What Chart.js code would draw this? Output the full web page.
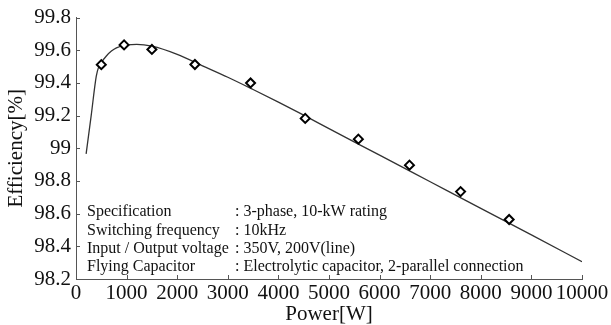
<!DOCTYPE html>
<html>
<head>
<meta charset="utf-8">
<title>Efficiency vs Power</title>
<script src="https://cdn.jsdelivr.net/npm/chart.js@4/dist/chart.umd.min.js"></script>
<style>
  html, body { margin: 0; padding: 0; background: #fff; }
  #wrap { width: 611px; height: 325px; }
</style>
</head>
<body>
<div id="wrap"><canvas id="effChart" width="611" height="325"></canvas></div>
<script>
// measured points (diamonds)
const measPower = [500, 950, 1500, 2350, 3450, 4530, 5580, 6590, 7600, 8560];
const measEff = [99.512, 99.633, 99.605, 99.513, 99.40, 99.183, 99.056, 98.897, 98.735, 98.564];

// fitted curve
const fitPower = [200, 300, 400, 450, 500, 600, 700, 800, 1000, 1200, 1500, 2000, 2500, 3000, 3500, 4000, 4500, 5000, 6000, 7000, 8000, 9000, 10000];
const fitEff = [98.966, 99.20, 99.44, 99.50, 99.525, 99.565, 99.595, 99.615, 99.633, 99.636, 99.625, 99.575, 99.505, 99.435, 99.36, 99.283, 99.203, 99.12, 98.958, 98.795, 98.632, 98.47, 98.306];

const xTicks = [0, 1000, 2000, 3000, 4000, 5000, 6000, 7000, 8000, 9000, 10000];
const yTicks = [98.2, 98.4, 98.6, 98.8, 99.0, 99.2, 99.4, 99.6, 99.8];
const yTickLabels = ['98.2', '98.4', '98.6', '98.8', '99', '99.2', '99.4', '99.6', '99.8'];

const specLabels = ['Specification', 'Switching frequency', 'Input / Output voltage', 'Flying Capacitor'];
const specValues = [': 3-phase, 10-kW rating', ': 10kHz', ': 350V, 200V(line)', ': Electrolytic capacitor, 2-parallel connection'];

const SERIF = '"Liberation Serif", "Times New Roman", serif';
const AXIS_COLOR = '#555';

// small inward tick marks on both axes
const innerTicks = {
    id: 'innerTicks',
    afterDraw(chart) {
        const { ctx, chartArea, scales } = chart;
        ctx.save();
        ctx.strokeStyle = AXIS_COLOR;
        ctx.lineWidth = 1;
        ctx.beginPath();
        xTicks.forEach(v => {
            const px = Math.round(scales.x.getPixelForValue(v)) + 0.5;
            ctx.moveTo(px, chartArea.bottom);
            ctx.lineTo(px, chartArea.bottom - 4);
        });
        yTicks.forEach(v => {
            const py = Math.round(scales.y.getPixelForValue(v)) + 0.5;
            ctx.moveTo(chartArea.left, py);
            ctx.lineTo(chartArea.left + 4, py);
        });
        ctx.stroke();
        ctx.restore();
    }
};

// spec table inside the plot
const specText = {
    id: 'specText',
    afterDraw(chart) {
        const { ctx, chartArea } = chart;
        ctx.save();
        ctx.font = '16px ' + SERIF;
        ctx.fillStyle = '#111';
        ctx.textBaseline = 'middle';
        const x1 = chartArea.left + 11;
        const x2 = chartArea.left + 159;
        const y0 = chartArea.bottom - 67;
        specLabels.forEach((t, i) => {
            const y = y0 + i * 18.3;
            ctx.fillText(t, x1, y);
            ctx.fillText(specValues[i], x2, y);
        });
        ctx.restore();
    }
};

new Chart(document.getElementById('effChart'), {
    type: 'scatter',
    data: {
        datasets: [
            {
                label: 'Measured',
                data: measPower.map((p, i) => ({ x: p, y: measEff[i] })),
                pointStyle: 'rectRot',
                pointRadius: 4.5,
                pointBackgroundColor: '#fff',
                pointBorderColor: '#000',
                pointBorderWidth: 2,
                showLine: false,
                order: 0
            },
            {
                label: 'Fit',
                data: fitPower.map((p, i) => ({ x: p, y: fitEff[i] })),
                showLine: true,
                borderColor: '#333',
                borderWidth: 1.3,
                pointRadius: 0,
                cubicInterpolationMode: 'monotone',
                order: 1
            }
        ]
    },
    options: {
        responsive: false,
        animation: false,
        layout: { padding: { top: 17, right: 29, left: 0, bottom: 0 } },
        plugins: {
            legend: { display: false },
            tooltip: { enabled: false }
        },
        scales: {
            x: {
                type: 'linear',
                min: 0,
                max: 10000,
                afterBuildTicks: s => { s.ticks = xTicks.map(v => ({ value: v })); },
                afterFit: s => { s.height = 46; },
                grid: { display: false, drawTicks: false },
                border: { display: true, color: AXIS_COLOR, width: 1 },
                ticks: {
                    padding: 2,
                    maxRotation: 0,
                    autoSkip: false,
                    color: '#111',
                    font: { family: SERIF, size: 21 },
                    callback: v => String(v)
                },
                title: {
                    display: true,
                    text: 'Power[W]',
                    color: '#111',
                    font: { family: SERIF, size: 21, lineHeight: 1 },
                    padding: { top: 0, bottom: 0 }
                }
            },
            y: {
                type: 'linear',
                min: 98.2,
                max: 99.8,
                afterBuildTicks: s => { s.ticks = yTicks.map(v => ({ value: v })); },
                afterFit: s => { s.width = 76; },
                grid: { display: false, drawTicks: false },
                border: { display: true, color: AXIS_COLOR, width: 1 },
                ticks: {
                    padding: 5,
                    autoSkip: false,
                    color: '#111',
                    font: { family: SERIF, size: 21 },
                    callback: (v, i) => yTickLabels[i]
                },
                title: {
                    display: true,
                    text: 'Efficiency[%]',
                    color: '#111',
                    font: { family: SERIF, size: 21, lineHeight: 1 },
                    padding: { top: 6, bottom: 0 }
                }
            }
        }
    },
    plugins: [innerTicks, specText]
});
</script>
</body>
</html>
